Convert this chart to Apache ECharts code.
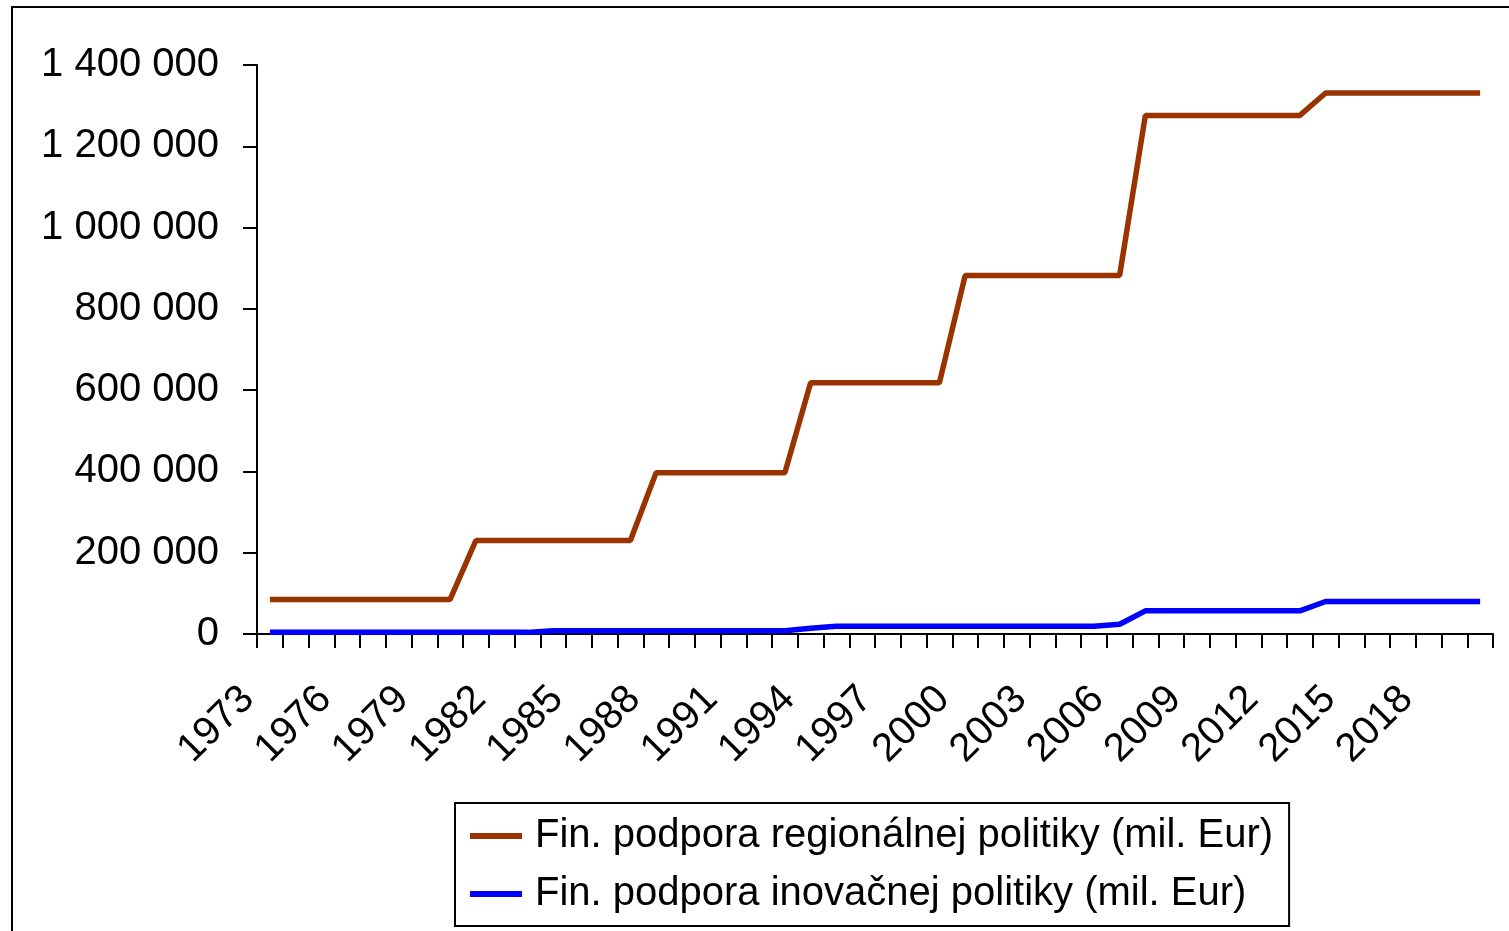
<!DOCTYPE html>
<html>
<head>
<meta charset="utf-8">
<script src="https://cdn.jsdelivr.net/npm/echarts@6/dist/echarts.min.js"></script>
<style>
  html, body { margin: 0; padding: 0; background: #fff; }
  #chart { width: 1509px; height: 931px; }
</style>
</head>
<body>
<div id="chart"></div>
<script>
  var years = [];
  for (var y = 1973; y <= 2020; y++) years.push(String(y));

  var regional = [
    85000, 85000, 85000, 85000, 85000, 85000, 85000, 85000,
    230000, 230000, 230000, 230000, 230000, 230000, 230000,
    397000, 397000, 397000, 397000, 397000, 397000,
    618000, 618000, 618000, 618000, 618000, 618000,
    882000, 882000, 882000, 882000, 882000, 882000, 882000,
    1276000, 1276000, 1276000, 1276000, 1276000, 1276000, 1276000,
    1331000, 1331000, 1331000, 1331000, 1331000, 1331000, 1331000
  ];
  var innovation = [
    4000, 4000, 4000, 4000, 4000, 4000, 4000, 4000, 4000, 4000, 4000,
    8000, 8000, 8000, 8000, 8000, 8000, 8000, 8000, 8000, 8000,
    14000,
    19000, 19000, 19000, 19000, 19000, 19000, 19000, 19000, 19000, 19000, 19000,
    24000,
    57000, 57000, 57000, 57000, 57000, 57000, 57000,
    80000, 80000, 80000, 80000, 80000, 80000, 80000
  ];
  var seriesNames = [
    'Fin. podpora regionálnej politiky (mil. Eur)',
    'Fin. podpora inovačnej politiky (mil. Eur)'
  ];
  var colors = ['#993300', '#0000ff'];

  var font = '"Liberation Sans", Arial, sans-serif';
  var chart = echarts.init(document.getElementById('chart'), null, { renderer: 'canvas' });
  chart.setOption({
    animation: false,
    backgroundColor: '#fff',
    graphic: [{
      type: 'rect',
      shape: { x: 12, y: 7, width: 1520, height: 960 },
      style: { fill: 'none', stroke: '#000', lineWidth: 2 },
      silent: true
    }],
    grid: { left: 257, right: 16, top: 65, bottom: 297, containLabel: false },
    legend: {
      orient: 'vertical',
      left: 455,
      top: 803,
      padding: [13, 16, 12, 15],
      itemGap: 18,
      itemWidth: 52,
      itemHeight: 6,
      icon: 'rect',
      borderColor: '#000',
      borderWidth: 2,
      textStyle: { fontFamily: font, fontSize: 40, color: '#000', padding: [0, 0, 0, 8] },
      data: seriesNames
    },
    xAxis: {
      type: 'category',
      data: years,
      boundaryGap: true,
      axisLine: { lineStyle: { color: '#000', width: 2 } },
      axisTick: { show: true, interval: 0, length: 14, lineStyle: { color: '#000', width: 2 } },
      axisLabel: {
        interval: 2,
        rotate: 45,
        margin: 37,
        padding: [0, 31, 0, 0],
        color: '#000',
        fontFamily: font,
        fontSize: 40
      },
      splitLine: { show: false }
    },
    yAxis: {
      type: 'value',
      min: 0,
      max: 1400000,
      interval: 200000,
      axisLine: { show: true, lineStyle: { color: '#000', width: 2 } },
      axisTick: { show: true, length: 14, lineStyle: { color: '#000', width: 2 } },
      axisLabel: {
        margin: 38,
        color: '#000',
        fontFamily: font,
        fontSize: 40,
        formatter: function (v) {
          return String(v).replace(/\B(?=(\d{3})+(?!\d))/g, ' ');
        }
      },
      splitLine: { show: false }
    },
    series: [{
      name: seriesNames[0],
      type: 'line',
      data: regional,
      symbol: 'none',
      color: colors[0],
      lineStyle: { color: colors[0], width: 5.5 }
    }, {
      name: seriesNames[1],
      type: 'line',
      data: innovation,
      symbol: 'none',
      color: colors[1],
      lineStyle: { color: colors[1], width: 5.5 }
    }]
  });
</script>
</body>
</html>
